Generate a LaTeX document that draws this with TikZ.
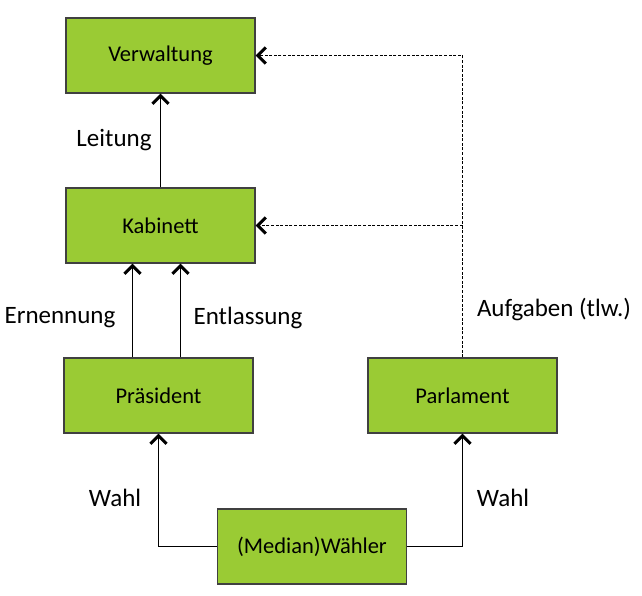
\documentclass[tikz,border=0pt]{standalone}
\usepackage{fontspec}
\setmainfont{Carlito}
\usepackage{tikz}
\usetikzlibrary{arrows.meta}
\definecolor{boxgreen}{HTML}{9ACB34}
\definecolor{boxline}{HTML}{404040}

\tikzset{
  akteur/.style={draw=boxline, line width=1.3pt, fill=boxgreen, minimum width=189pt, minimum height=75pt,
    inner sep=0pt, font=\fontsize{22.5}{27}\selectfont},
  pfeil/.style={line width=1.3pt, -{Straight Barb[length=8pt,width=16pt,line width=3pt]}},
  auftrag/.style={pfeil, line width=1.5pt, dash pattern=on 3pt off 1.6pt},
  beschr/.style={font=\fontsize{25}{30}\selectfont}
}

\begin{document}
\begin{tikzpicture}[x=1pt, y=-1pt]
\useasboundingbox (0,0) rectangle (642,596);

% Boxes
\node[akteur] (verwaltung) at (160.5, 55.5) {Verwaltung};
\node[akteur] (kabinett) at (160.5, 225.5) {Kabinett};
\node[akteur] (praesident) at (158.5, 395.5) {Präsident};
\node[akteur] (parlament) at (462.5, 395.5) {Parlament};
\node[akteur] (waehler) at (312, 546.5) {(Median)Wähler};

% Leitung
\draw[pfeil] (kabinett.north) -- (verwaltung.south);
\node[beschr] (leitung) at (114, 140) {Leitung};

% Ernennung / Entlassung
\draw[pfeil] ([xshift=-26pt]praesident.north) -- ([xshift=-26pt]praesident.north |- kabinett.south);
\draw[pfeil] ([xshift=22pt]praesident.north) -- ([xshift=22pt]praesident.north |- kabinett.south);
\node[beschr] (ernennung) at (60, 318) {Ernennung};
\node[beschr] (entlassung) at (248, 318) {Entlassung};

% Aufgaben (dashed)
\coordinate (abzweig) at (parlament.north |- kabinett.east);
\draw[auftrag] (parlament.north) -- (parlament.north |- verwaltung.east) -- (verwaltung.east);
\draw[auftrag] (abzweig) -- (kabinett.east);
\node[beschr] (aufgaben) at (554, 310) {Aufgaben (tlw.)};

% Wahl
\draw[pfeil] (waehler.west) -| (praesident.south);
\draw[pfeil] (waehler.east) -| (parlament.south);
\node[beschr] (wahl1) at (115, 498) {Wahl};
\node[beschr] (wahl2) at (503, 498) {Wahl};

\end{tikzpicture}
\end{document}
